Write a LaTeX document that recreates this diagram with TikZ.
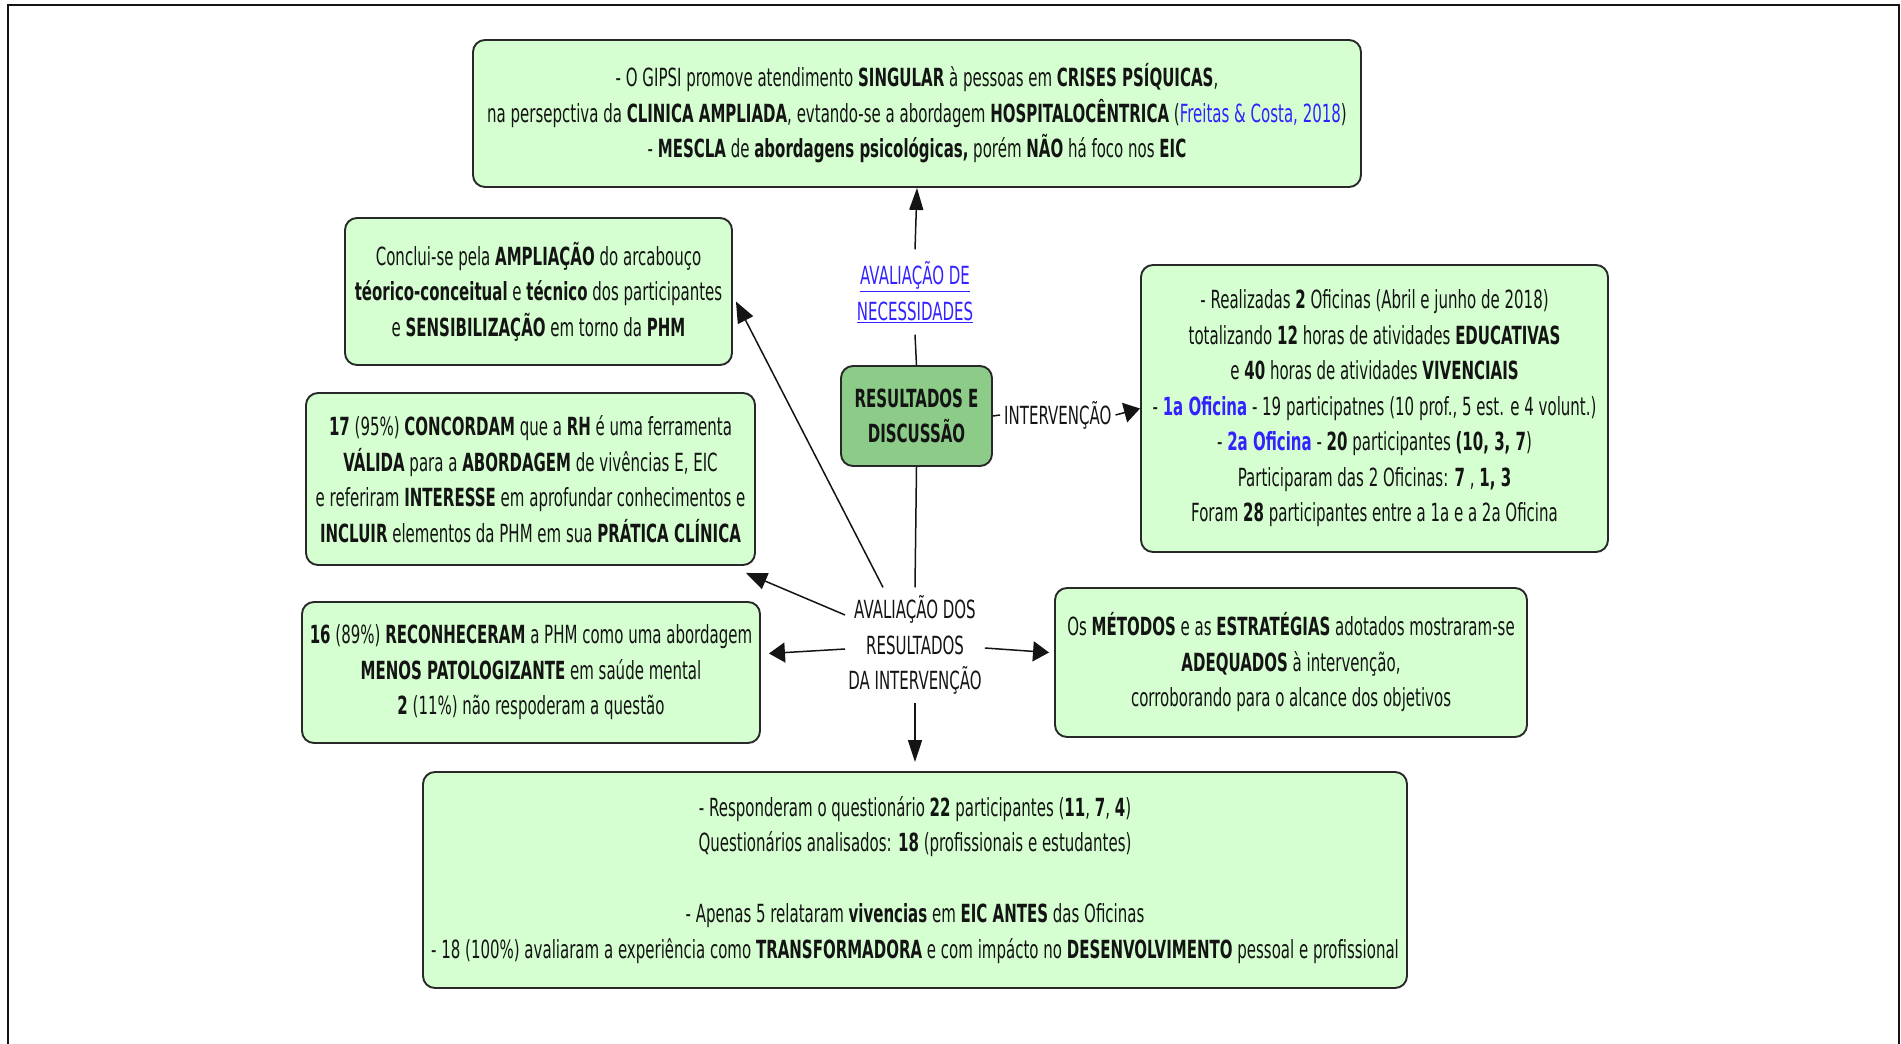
\documentclass[tikz,border=0pt]{standalone}
\usepackage{fontspec}
\setmainfont{DejaVu Sans}[FakeStretch=0.6]
\usetikzlibrary{arrows.meta,calc}
\definecolor{pale}{RGB}{213,255,208}
\definecolor{midgreen}{RGB}{140,204,136}
\definecolor{linkblue}{RGB}{51,34,255}
\definecolor{ink}{RGB}{20,20,20}
\definecolor{edge}{RGB}{40,40,40}
\begin{document}
\begin{tikzpicture}[x=1pt,y=-1pt,
  txt/.style={font=\fontsize{25pt}{35.5pt}\selectfont, text=ink, align=center},
  box/.style={txt, draw=edge, line width=1.9pt, fill=pale, rounded corners=12pt, inner sep=0pt},
  hub/.style={box, fill=midgreen},
  lbl/.style={txt, inner xsep=3pt, inner ysep=8pt},
  ln/.style={draw=ink, line width=1.5pt},
  arr/.style={ln, -{Triangle[length=22pt,width=14pt]}},
  arrD/.style={ln, -{Triangle[length=21pt,width=17pt]}},
  arrH/.style={ln, -{Triangle[length=16pt,width=20pt]}}]
\useasboundingbox (0,0) rectangle (1901,1044);
\draw[line width=2.3pt, ink] (8,1044) -- (8,5) -- (1899,5) -- (1899,1044);

\node[box, minimum width=888pt, minimum height=147pt] (T) at (917,113.5)
 {- O GIPSI promove atendimento \textbf{SINGULAR} à pessoas em \textbf{CRISES PSÍQUICAS},\\
  na persepctiva da \textbf{CLINICA AMPLIADA}, evtando-se a abordagem \textbf{HOSPITALOCÊNTRICA} (\textcolor{linkblue}{Freitas \& Costa, 2018})\\
  - \textbf{MESCLA} de \textbf{abordagens psicológicas,} porém \textbf{NÃO} há foco nos \textbf{EIC}};

\node[lbl, text=linkblue, inner ysep=12pt] (N) at (915,292)
 {\underline{AVALIAÇÃO DE}\\\underline{NECESSIDADES}};

\node[hub, minimum width=151pt, minimum height=100pt] (ctr) at (916.5,416)
 {\textbf{RESULTADOS E}\\\textbf{DISCUSSÃO}};

\node[lbl, anchor=west, inner xsep=4pt] (I) at (1000,415) {INTERVENÇÃO};

\node[box, minimum width=467pt, minimum height=287pt] (E) at (1374.5,408.5)
 {- Realizadas \textbf{2} Oficinas (Abril e junho de 2018)\\
  totalizando \textbf{12} horas de atividades \textbf{EDUCATIVAS}\\
  e \textbf{40} horas de atividades \textbf{VIVENCIAIS}\\
  - \textcolor{linkblue}{\textbf{1a Oficina}} - 19 participatnes (10 prof., 5 est. e 4 volunt.)\\
  - \textcolor{linkblue}{\textbf{2a Oficina}} - \textbf{20} participantes \textbf{(10, 3, 7})\\
  Participaram das 2 Oficinas: \textbf{7} , \textbf{1, 3}\\
  Foram \textbf{28} participantes entre a 1a e a 2a Oficina};

\node[box, minimum width=387pt, minimum height=147pt] (A) at (538.5,291.5)
 {Conclui-se pela \textbf{AMPLIAÇÃO} do arcabouço\\
  \textbf{téorico-conceitual} e \textbf{técnico} dos participantes\\
  e \textbf{SENSIBILIZAÇÃO} em torno da \textbf{PHM}};

\node[box, minimum width=449pt, minimum height=172pt] (B) at (530.5,479)
 {\textbf{17} (95\%) \textbf{CONCORDAM} que a \textbf{RH} é uma ferramenta\\
  \textbf{VÁLIDA} para a \textbf{ABORDAGEM} de vivências E, EIC\\
  e referiram \textbf{INTERESSE} em aprofundar conhecimentos e\\
  \textbf{INCLUIR} elementos da PHM em sua \textbf{PRÁTICA CLÍNICA}};

\node[lbl] (R) at (915,645)
 {AVALIAÇÃO DOS\\RESULTADOS\\DA INTERVENÇÃO};

\node[box, minimum width=458pt, minimum height=141pt] (Cb) at (531,672.5)
 {\textbf{16} (89\%) \textbf{RECONHECERAM} a PHM como uma abordagem\\
  \textbf{MENOS PATOLOGIZANTE} em saúde mental\\
  \textbf{2} (11\%) não respoderam a questão};

\node[box, minimum width=472pt, minimum height=149pt] (D) at (1291,662.5)
 {Os \textbf{MÉTODOS} e as \textbf{ESTRATÉGIAS} adotados mostraram-se\\
  \textbf{ADEQUADOS} à intervenção,\\
  corroborando para o alcance dos objetivos};

\node[box, minimum width=984pt, minimum height=216pt] (F) at (915,880)
 {- Responderam o questionário \textbf{22} participantes (\textbf{11}, \textbf{7}, \textbf{4})\\
  Questionários analisados: \textbf{18} (profissionais e estudantes)\\[35.5pt]
  - Apenas 5 relataram \textbf{vivencias} em \textbf{EIC ANTES} das Oficinas\\
  - 18 (100\%) avaliaram a experiência como \textbf{TRANSFORMADORA} e com impácto no \textbf{DESENVOLVIMENTO} pessoal e profissional};

\draw[ln] (ctr.north) -- (N.south);
\draw[arr] (N.north) -- (T.south);
\draw[ln] (ctr.east) -- (I.west);
\draw[arrH] (I.east) -- (E.west);
\draw[ln] (ctr.south) -- (R.north);
\draw[arrD] ([xshift=-32pt]R.north) -- ([shift={(3pt,-10pt)}]A.east);
\draw[arrD] ([yshift=30pt]R.west) -- ([shift={(-10pt,-7pt)}]B.south east);
\draw[arrH] ([yshift=-4pt]R.west) -- ([shift={(8pt,19pt)}]Cb.east);
\draw[arrH] ([yshift=-3pt]R.east) -- ([shift={(-5pt,10pt)}]D.west);
\draw[arr] (R.south) -- ([yshift=9pt]F.north);
\end{tikzpicture}
\end{document}
